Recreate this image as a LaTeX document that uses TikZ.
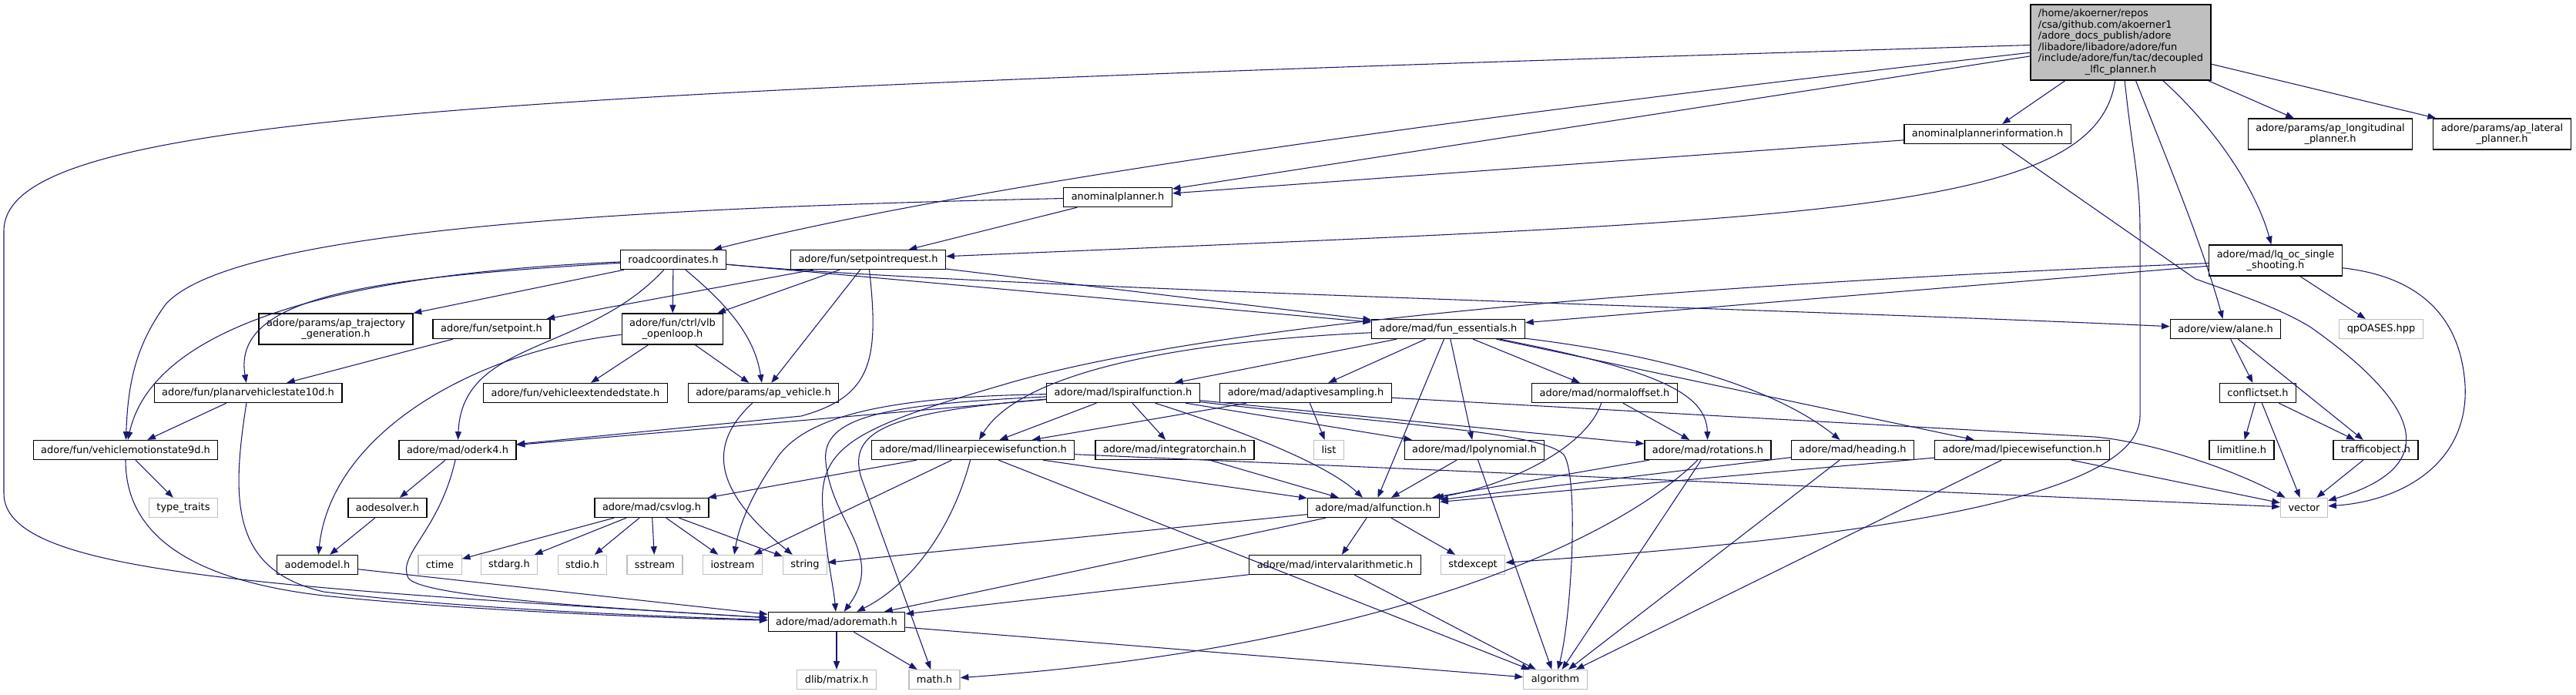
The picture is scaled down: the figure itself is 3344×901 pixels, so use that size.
\documentclass[tikz,border=0pt]{standalone}
\usepackage{fontspec}
\setmainfont{DejaVu Sans}
\usetikzlibrary{arrows.meta}
\definecolor{midnightblue}{RGB}{25,25,112}
\definecolor{grey75}{RGB}{191,191,191}
\tikzset{
  hdr/.style={draw=black, fill=white, line width=1pt, rectangle, inner xsep=7.5pt, inner ysep=2pt,
    minimum height=18.75pt, font=\fontsize{9.7}{10.9}\selectfont},
  hdrtwo/.style={hdr, align=center, minimum height=30pt},
  syshdr/.style={hdr, draw=grey75},
  mainhdr/.style={hdr, fill=grey75, minimum height=73.5pt},
  incl/.style={draw=midnightblue, line width=0.8pt, -{Triangle[length=8pt,width=6pt]}}
}
\begin{document}
\begin{tikzpicture}[x=0.75pt,y=-0.75pt]
\useasboundingbox (0,0) rectangle (3344,901);
\node[mainhdr] (main) at (2753,55) {\begin{tabular}{@{}l@{}}/home/akoerner/repos\\/csa/github.com/akoerner1\\/adore\_docs\_publish/adore\\/libadore/libadore/adore/fun\\/include/adore/fun/tac/decoupled\\\multicolumn{1}{@{}c@{}}{\_lflc\_planner.h}\end{tabular}};
\node[hdr] (apinfo) at (2580,174) {anominalplannerinformation.h};
\node[hdrtwo] (aplong) at (3025,174) {adore/params/ap\_longitudinal\\\_planner.h};
\node[hdrtwo] (aplat) at (3248,174) {adore/params/ap\_lateral\\\_planner.h};
\node[hdr] (anomplan) at (1451,256) {anominalplanner.h};
\node[hdr] (roadcoord) at (874,337) {roadcoordinates.h};
\node[hdr] (sprequest) at (1127,337) {adore/fun/setpointrequest.h};
\node[hdrtwo] (lqoc) at (2954,338) {adore/mad/lq\_oc\_single\\\_shooting.h};
\node[hdrtwo] (aptraj) at (436,427) {adore/params/ap\_trajectory\\\_generation.h};
\node[hdr] (setpoint) at (638,427) {adore/fun/setpoint.h};
\node[hdrtwo] (vlbopen) at (873,427) {adore/fun/ctrl/vlb\\\_openloop.h};
\node[hdr] (funess) at (1880,427) {adore/mad/fun\_essentials.h};
\node[hdr] (alane) at (2889,427) {adore/view/alane.h};
\node[syshdr] (qpoases) at (3091,427) {qpOASES.hpp};
\node[hdr] (pvs10d) at (322,510) {adore/fun/planarvehiclestate10d.h};
\node[hdr] (vextstate) at (747,510) {adore/fun/vehicleextendedstate.h};
\node[hdr] (apvehicle) at (991,510) {adore/params/ap\_vehicle.h};
\node[hdr] (lspiral) at (1458,510) {adore/mad/lspiralfunction.h};
\node[hdr] (adaptsamp) at (1695,510) {adore/mad/adaptivesampling.h};
\node[hdr] (normoff) at (2083,510) {adore/mad/normaloffset.h};
\node[hdr] (conflictset) at (2931,510) {conflictset.h};
\node[hdr] (vms9d) at (163,584) {adore/fun/vehiclemotionstate9d.h};
\node[hdr] (oderk) at (594,584) {adore/mad/oderk4.h};
\node[hdr] (llinear) at (1263,584) {adore/mad/llinearpiecewisefunction.h};
\node[hdr] (integchain) at (1525,584) {adore/mad/integratorchain.h};
\node[syshdr] (listh) at (1725,584) {list};
\node[hdr] (lpoly) at (1914,584) {adore/mad/lpolynomial.h};
\node[hdr] (rotations) at (2217,584) {adore/mad/rotations.h};
\node[hdr] (heading) at (2405,584) {adore/mad/heading.h};
\node[hdr] (lpiece) at (2625,584) {adore/mad/lpiecewisefunction.h};
\node[hdr] (limitline) at (2910,584) {limitline.h};
\node[hdr] (trafficobj) at (3084,584) {trafficobject.h};
\node[syshdr] (typetraits) at (238,659) {type\_traits};
\node[hdr] (aodesolver) at (503,659) {aodesolver.h};
\node[hdr] (csvlog) at (846,659) {adore/mad/csvlog.h};
\node[hdr] (alfunc) at (1783,659) {adore/mad/alfunction.h};
\node[syshdr] (vectorh) at (2991,659) {vector};
\node[hdr] (aodemodel) at (412,733) {aodemodel.h};
\node[syshdr] (ctime) at (571,733) {ctime};
\node[syshdr] (stdarg) at (661,733) {stdarg.h};
\node[syshdr] (stdio) at (756,733) {stdio.h};
\node[syshdr] (sstream) at (850,733) {sstream};
\node[syshdr] (iostream) at (951,733) {iostream};
\node[syshdr] (stringh) at (1045,733) {string};
\node[hdr] (intervalar) at (1733,733) {adore/mad/intervalarithmetic.h};
\node[syshdr] (stdexcept) at (1912,733) {stdexcept};
\node[hdr] (adoremath) at (1086,807) {adore/mad/adoremath.h};
\node[syshdr] (dlibmatrix) at (1086,882) {dlib/matrix.h};
\node[syshdr] (mathh) at (1213,882) {math.h};
\node[syshdr] (algorithm) at (2019,882) {algorithm};

\draw[incl] (main) -- (apinfo);
\draw[incl] (main) -- (aplong);
\draw[incl] (main) -- (aplat);
\draw[incl] (main) -- (anomplan);
\draw[incl] (main) .. controls (2000,140) and (1300,230) .. (roadcoord);
\draw[incl] (main) .. controls (2720,280) and (2350,285) .. (sprequest);
\draw[incl] (main) .. controls (2880,170) and (2930,250) .. (lqoc);
\draw[incl] (main) .. controls (2810,200) and (2860,320) .. (alane);
\draw[incl] (main) .. controls (2768,200) and (2778,230) .. (2778,300) -- (2778,540) .. controls (2778,650) and (2400,700) .. (stdexcept);
\draw[incl] (main) .. controls (600,120) and (5,150) .. (5,300) -- (5,640) .. controls (5,740) and (300,760) .. (adoremath);
\draw[incl] (apinfo) -- (anomplan);
\draw[incl] (apinfo) -- (2850,362) .. controls (2900,380) and (2960,400) .. (3000,425) .. controls (3120,510) and (3190,600) .. (vectorh);
\draw[incl] (lqoc) .. controls (3150,360) and (3195,420) .. (3200,500) .. controls (3205,600) and (3120,650) .. (vectorh);
\draw[incl] (lqoc) -- (qpoases);
\draw[incl] (lqoc) -- (funess);
\draw[incl] (lqoc) .. controls (2100,373) and (1550,425) .. (1300,500) .. controls (1110,555) and (1062,580) .. (1068,660) .. controls (1072,720) and (1082,760) .. (adoremath);
\draw[incl] (anomplan) -- (sprequest);
\draw[incl] (anomplan) .. controls (800,270) and (300,300) .. (215,395) .. controls (175,450) and (166,500) .. (vms9d);
\draw[incl] (sprequest) -- (setpoint);
\draw[incl] (sprequest) -- (vlbopen);
\draw[incl] (sprequest) -- (apvehicle);
\draw[incl] (sprequest) .. controls (1142,470) and (1130,515) .. (1040,540) -- (oderk);
\draw[incl] (sprequest) -- (funess);
\draw[incl] (roadcoord) -- (funess);
\draw[incl] (roadcoord) .. controls (1300,375) and (2300,400) .. (alane);
\draw[incl] (roadcoord) -- (aptraj);
\draw[incl] (roadcoord) -- (vlbopen);
\draw[incl] (roadcoord) .. controls (760,460) and (600,440) .. (oderk);
\draw[incl] (roadcoord) .. controls (950,400) and (980,440) .. (apvehicle);
\draw[incl] (roadcoord) .. controls (500,360) and (300,380) .. (pvs10d);
\draw[incl] (roadcoord) .. controls (450,355) and (200,420) .. (vms9d);
\draw[incl] (setpoint) -- (pvs10d);
\draw[incl] (vlbopen) -- (vextstate);
\draw[incl] (vlbopen) -- (apvehicle);
\draw[incl] (vlbopen) .. controls (620,455) and (430,560) .. (aodemodel);
\draw[incl] (pvs10d) -- (vms9d);
\draw[incl] (pvs10d) .. controls (300,650) and (300,740) .. (420,768) .. controls (600,790) and (850,800) .. (adoremath);
\draw[incl] (vms9d) -- (typetraits);
\draw[incl] (vms9d) .. controls (163,690) and (240,752) .. (420,773) .. controls (600,792) and (850,802) .. (adoremath);
\draw[incl] (oderk) -- (aodesolver);
\draw[incl] (oderk) .. controls (570,690) and (515,720) .. (530,750) .. controls (545,775) and (800,790) .. (adoremath);
\draw[incl] (aodesolver) -- (aodemodel);
\draw[incl] (aodemodel) -- (adoremath);
\draw[incl] (csvlog) -- (ctime);
\draw[incl] (csvlog) -- (stdarg);
\draw[incl] (csvlog) -- (stdio);
\draw[incl] (csvlog) -- (sstream);
\draw[incl] (csvlog) -- (iostream);
\draw[incl] (csvlog) -- (stringh);
\draw[incl] (apvehicle) .. controls (915,580) and (930,640) .. (stringh);
\draw[incl] (alfunc) -- (stringh);
\draw[incl] (alfunc) -- (adoremath);
\draw[incl] (alfunc) -- (intervalar);
\draw[incl] (alfunc) -- (stdexcept);
\draw[incl] (intervalar) -- (adoremath);
\draw[incl] (intervalar) -- (algorithm);
\draw[incl] (adoremath) -- (dlibmatrix);
\draw[incl] (adoremath) -- (mathh);
\draw[incl] (adoremath) -- (algorithm);
\draw[incl] (llinear) -- (csvlog);
\draw[incl] (llinear) -- (iostream);
\draw[incl] (llinear) -- (alfunc);
\draw[incl] (llinear) -- (algorithm);
\draw[incl] (llinear) -- (vectorh);
\draw[incl] (llinear) .. controls (1235,690) and (1180,760) .. (adoremath);
\draw[incl] (lspiral) -- (llinear);
\draw[incl] (lspiral) -- (integchain);
\draw[incl] (lspiral) -- (lpoly);
\draw[incl] (lspiral) -- (rotations);
\draw[incl] (lspiral) -- (oderk);
\draw[incl] (lspiral) .. controls (1600,555) and (1720,600) .. (alfunc);
\draw[incl] (lspiral) .. controls (1800,550) and (2000,560) .. (2030,590) .. controls (2050,620) and (2040,800) .. (algorithm);
\draw[incl] (lspiral) .. controls (1150,525) and (1065,540) .. (1072,600) .. controls (1080,680) and (1150,720) .. (adoremath);
\draw[incl] (lspiral) .. controls (1150,535) and (1100,560) .. (1118,620) -- (mathh);
\draw[incl] (lspiral) .. controls (1150,515) and (1040,540) .. (1005,600) .. controls (970,650) and (958,690) .. (iostream);
\draw[incl] (adaptsamp) -- (llinear);
\draw[incl] (adaptsamp) -- (listh);
\draw[incl] (adaptsamp) -- (2720,567) .. controls (2800,575) and (2900,610) .. (vectorh);
\draw[incl] (funess) -- (lspiral);
\draw[incl] (funess) -- (adaptsamp);
\draw[incl] (funess) -- (alfunc);
\draw[incl] (funess) -- (lpoly);
\draw[incl] (funess) -- (normoff);
\draw[incl] (funess) -- (lpiece);
\draw[incl] (funess) .. controls (1500,445) and (1320,490) .. (llinear);
\draw[incl] (funess) .. controls (2150,480) and (2215,510) .. (rotations);
\draw[incl] (funess) .. controls (2150,460) and (2300,500) .. (heading);
\draw[incl] (normoff) -- (rotations);
\draw[incl] (normoff) .. controls (2060,580) and (1960,630) .. (alfunc);
\draw[incl] (lpoly) -- (alfunc);
\draw[incl] (lpoly) -- (algorithm);
\draw[incl] (integchain) -- (alfunc);
\draw[incl] (rotations) -- (alfunc);
\draw[incl] (rotations) .. controls (2100,700) and (1800,840) .. (mathh);
\draw[incl] (rotations) -- (algorithm);
\draw[incl] (heading) -- (alfunc);
\draw[incl] (heading) -- (algorithm);
\draw[incl] (lpiece) -- (alfunc);
\draw[incl] (lpiece) -- (algorithm);
\draw[incl] (lpiece) -- (vectorh);
\draw[incl] (alane) -- (conflictset);
\draw[incl] (alane) -- (trafficobj);
\draw[incl] (conflictset) -- (limitline);
\draw[incl] (conflictset) -- (vectorh);
\draw[incl] (conflictset) -- (trafficobj);
\draw[incl] (trafficobj) -- (vectorh);
\end{tikzpicture}
\end{document}
